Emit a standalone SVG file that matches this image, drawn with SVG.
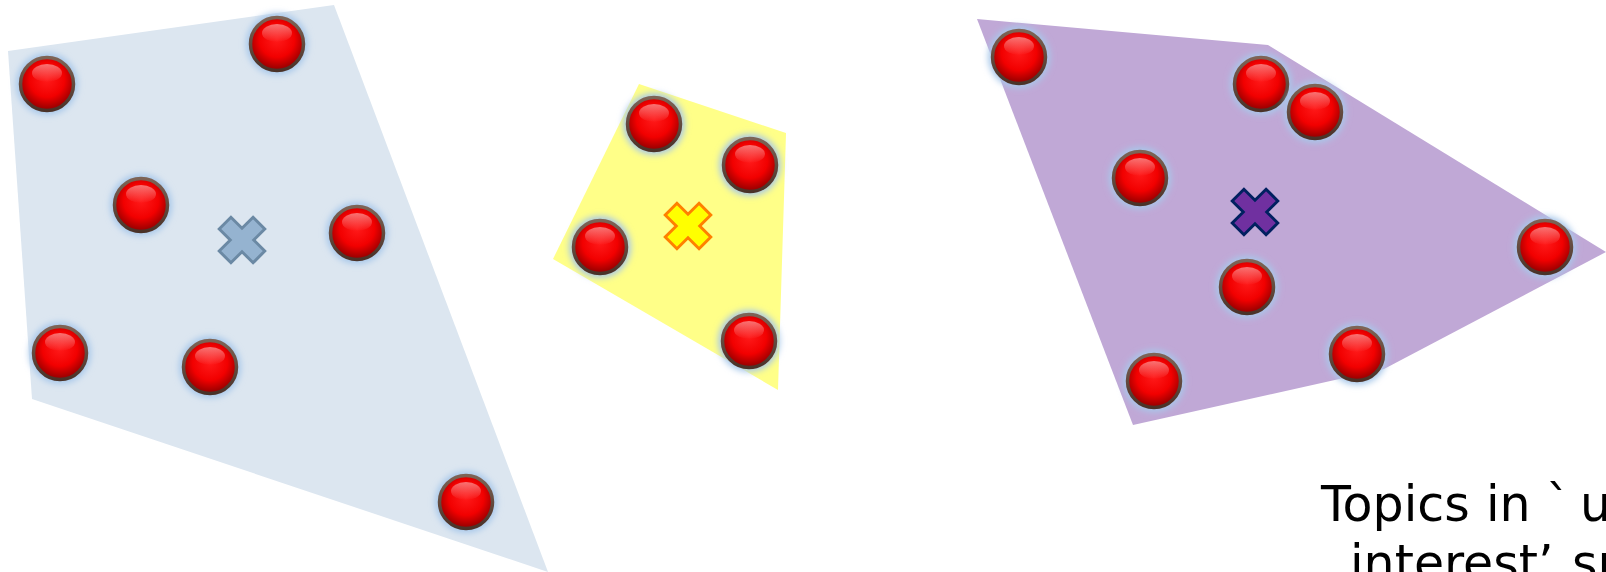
<svg xmlns="http://www.w3.org/2000/svg" width="1606" height="572" viewBox="0 0 1606 572">
<style>
.lbl{font-family:"DejaVu Sans",Verdana,sans-serif;font-size:49px;fill:#000}
</style>
<defs>
<radialGradient id="ball" cx="50%" cy="42%" r="55%">
<stop offset="0" stop-color="#ff1a1a"/>
<stop offset="0.6" stop-color="#f20000"/>
<stop offset="1" stop-color="#9a0000"/>
</radialGradient>
<linearGradient id="hl" x1="0" y1="0" x2="0" y2="1">
<stop offset="0" stop-color="#ffffff" stop-opacity="0.45"/>
<stop offset="1" stop-color="#ffffff" stop-opacity="0"/>
</linearGradient>
<linearGradient id="rim" x1="0" y1="0" x2="0" y2="1">
<stop offset="0" stop-color="#7d6456"/>
<stop offset="1" stop-color="#4a3228"/>
</linearGradient>
<filter id="glow" x="-50%" y="-50%" width="200%" height="200%">
<feGaussianBlur stdDeviation="3"/>
</filter>
<g id="dot">
<circle r="31" fill="#a8c8ea" filter="url(#glow)"/>
<circle r="26.5" fill="url(#ball)" stroke="url(#rim)" stroke-width="3.5"/>
<ellipse cx="0" cy="-11" rx="15" ry="9" fill="url(#hl)"/>
</g>
<path id="cross" d="M-9,-26 H9 V-9 H26 V9 H9 V26 H-9 V9 H-26 V-9 H-9 Z" transform="rotate(45)"/>
</defs>

<g id="cluster-blue">
<polygon points="8,51 334,5 548,572 32,399" fill="#dce6f0"/>
</g>
<g id="cluster-yellow">
<polygon points="639,84 786,133 778,390 553,259" fill="#ffff88"/>
</g>
<g id="cluster-purple">
<polygon points="977,19 1268,45 1606,252 1384,369 1133,425" fill="#c0a8d6"/>
</g>

<g id="connectors"></g>

<g id="blue-points">
<use href="#dot" x="47" y="84"/>
<use href="#dot" x="277" y="44"/>
<use href="#dot" x="141" y="205"/>
<use href="#dot" x="357" y="233"/>
<use href="#dot" x="60" y="353"/>
<use href="#dot" x="210" y="367"/>
<use href="#dot" x="466" y="502"/>
</g>
<g id="blue-centroid">
<use href="#cross" transform="translate(242,240) scale(0.92)" fill="#95b3d0" stroke="#6b89a4" stroke-width="3.2"/>
</g>

<g id="yellow-points">
<use href="#dot" x="654" y="124"/>
<use href="#dot" x="750" y="165"/>
<use href="#dot" x="600" y="247"/>
<use href="#dot" x="749" y="341"/>
</g>
<g id="yellow-centroid">
<use href="#cross" transform="translate(688,226) scale(0.92)" fill="#ffff00" stroke="#ff8000" stroke-width="3.2"/>
</g>

<g id="purple-points">
<use href="#dot" x="1019" y="57"/>
<use href="#dot" x="1261" y="84"/>
<use href="#dot" x="1315" y="112"/>
<use href="#dot" x="1140" y="178"/>
<use href="#dot" x="1545" y="247"/>
<use href="#dot" x="1247" y="287"/>
<use href="#dot" x="1357" y="354"/>
<use href="#dot" x="1154" y="381"/>
</g>
<g id="purple-centroid">
<use href="#cross" transform="translate(1255,212) scale(0.92)" fill="#7030a0" stroke="#002060" stroke-width="3.2"/>
</g>

<g id="caption">
<text class="lbl" y="521"><tspan x="1321">Topics</tspan> <tspan x="1486">in</tspan> <tspan x="1546">`</tspan><tspan x="1580">user</tspan></text>
<text class="lbl" y="580"><tspan x="1350">interest’</tspan> <tspan x="1572">space</tspan></text>
</g>
</svg>
